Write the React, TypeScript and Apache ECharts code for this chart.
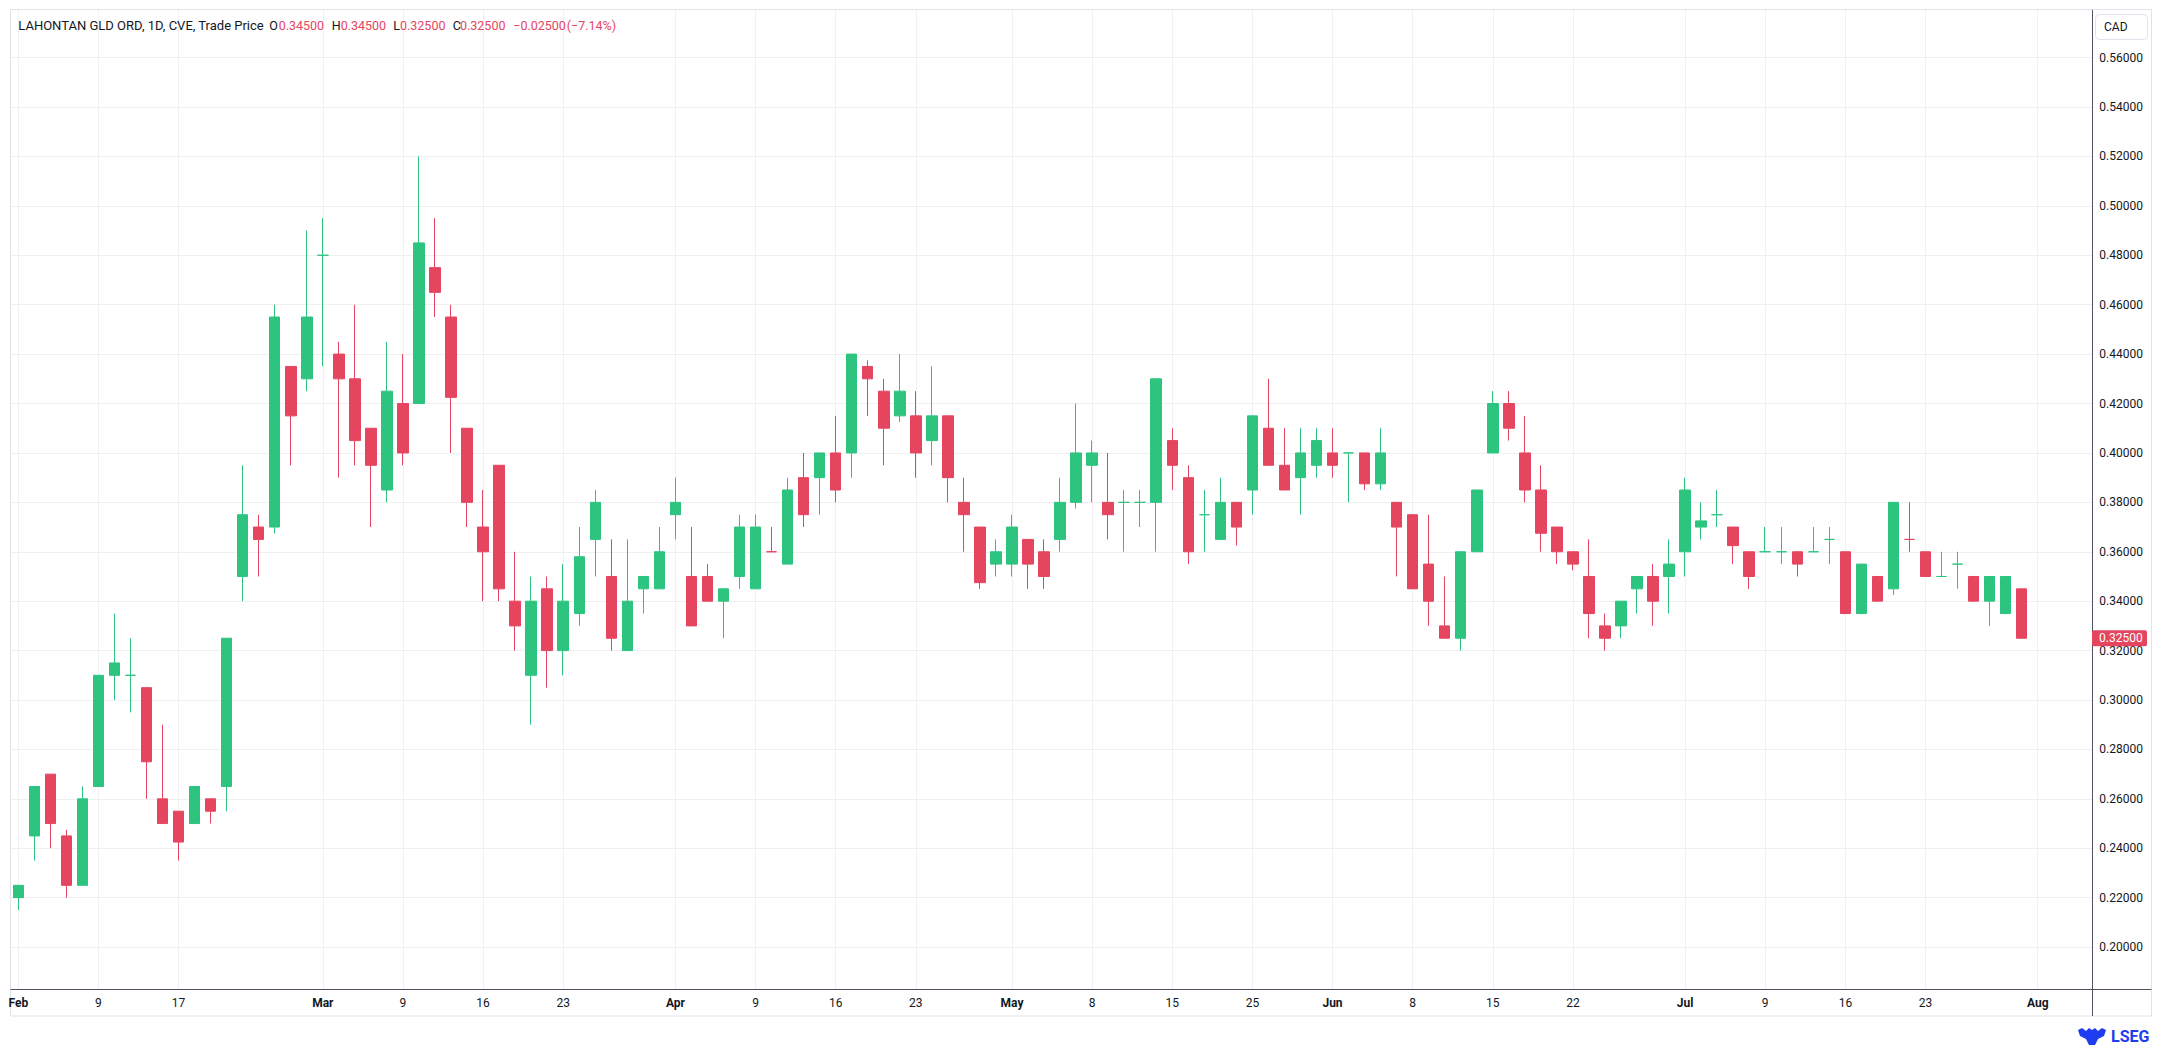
import React, { useEffect, useRef } from "react";
import * as echarts from "echarts";

// ---------- data ----------
const openPrices = [
  0.22, 0.245, 0.27, 0.245, 0.225, 0.265, 0.31, 0.31, 0.305, 0.26,
  0.255, 0.25, 0.26, 0.265, 0.35, 0.37, 0.37, 0.435, 0.43, 0.48,
  0.44, 0.43, 0.41, 0.385, 0.42, 0.42, 0.475, 0.455, 0.41, 0.37,
  0.395, 0.34, 0.31, 0.345, 0.32, 0.335, 0.365, 0.35, 0.32, 0.345,
  0.345, 0.375, 0.35, 0.35, 0.34, 0.35, 0.345, 0.36, 0.355, 0.39,
  0.39, 0.4, 0.4, 0.435, 0.425, 0.415, 0.415, 0.405, 0.415, 0.38,
  0.37, 0.355, 0.355, 0.365, 0.36, 0.365, 0.38, 0.395, 0.38, 0.38,
  0.38, 0.38, 0.405, 0.39, 0.375, 0.365, 0.38, 0.385, 0.41, 0.395,
  0.39, 0.395, 0.4, 0.4, 0.4, 0.3875, 0.38, 0.375, 0.355, 0.33,
  0.325, 0.36, 0.4, 0.42, 0.4, 0.385, 0.37, 0.36, 0.35, 0.33,
  0.33, 0.345, 0.35, 0.35, 0.36, 0.37, 0.375, 0.37, 0.36, 0.36,
  0.36, 0.36, 0.36, 0.365, 0.36, 0.335, 0.35, 0.345, 0.365, 0.36,
  0.35, 0.355, 0.35, 0.34, 0.335, 0.345,
];
const highPrices = [
  0.225, 0.265, 0.27, 0.2475, 0.265, 0.31, 0.335, 0.325, 0.305, 0.29,
  0.255, 0.265, 0.26, 0.325, 0.395, 0.375, 0.46, 0.435, 0.49, 0.495,
  0.445, 0.46, 0.41, 0.445, 0.44, 0.52, 0.495, 0.46, 0.41, 0.385,
  0.395, 0.36, 0.35, 0.35, 0.355, 0.37, 0.385, 0.365, 0.365, 0.35,
  0.37, 0.39, 0.37, 0.355, 0.345, 0.375, 0.375, 0.37, 0.39, 0.4,
  0.4, 0.415, 0.44, 0.4375, 0.43, 0.44, 0.425, 0.435, 0.415, 0.39,
  0.37, 0.365, 0.375, 0.365, 0.365, 0.39, 0.42, 0.405, 0.4, 0.385,
  0.385, 0.43, 0.41, 0.395, 0.385, 0.39, 0.38, 0.415, 0.43, 0.41,
  0.41, 0.41, 0.41, 0.4, 0.4, 0.41, 0.38, 0.375, 0.375, 0.35,
  0.36, 0.385, 0.425, 0.425, 0.415, 0.395, 0.37, 0.36, 0.365, 0.335,
  0.34, 0.35, 0.355, 0.365, 0.39, 0.38, 0.385, 0.37, 0.36, 0.37,
  0.37, 0.36, 0.37, 0.37, 0.36, 0.355, 0.35, 0.38, 0.38, 0.36,
  0.36, 0.36, 0.35, 0.35, 0.35, 0.345,
];
const lowPrices = [
  0.215, 0.235, 0.24, 0.22, 0.225, 0.265, 0.3, 0.295, 0.26, 0.25,
  0.235, 0.25, 0.25, 0.255, 0.34, 0.35, 0.3675, 0.395, 0.425, 0.435,
  0.39, 0.395, 0.37, 0.38, 0.395, 0.42, 0.455, 0.4, 0.37, 0.34,
  0.34, 0.32, 0.29, 0.305, 0.31, 0.33, 0.35, 0.32, 0.32, 0.335,
  0.345, 0.365, 0.33, 0.34, 0.325, 0.345, 0.345, 0.36, 0.355, 0.37,
  0.375, 0.38, 0.39, 0.415, 0.395, 0.4125, 0.39, 0.395, 0.38, 0.36,
  0.345, 0.35, 0.35, 0.345, 0.345, 0.36, 0.3775, 0.38, 0.365, 0.36,
  0.37, 0.36, 0.385, 0.355, 0.36, 0.365, 0.3625, 0.375, 0.395, 0.385,
  0.375, 0.39, 0.39, 0.38, 0.385, 0.385, 0.35, 0.345, 0.33, 0.325,
  0.32, 0.36, 0.4, 0.405, 0.38, 0.36, 0.355, 0.3525, 0.325, 0.32,
  0.325, 0.335, 0.33, 0.335, 0.35, 0.365, 0.37, 0.355, 0.345, 0.36,
  0.355, 0.35, 0.36, 0.355, 0.335, 0.335, 0.34, 0.3425, 0.36, 0.35,
  0.35, 0.345, 0.34, 0.33, 0.335, 0.325,
];
const closePrices = [
  0.225, 0.265, 0.25, 0.225, 0.26, 0.31, 0.315, 0.31, 0.275, 0.25,
  0.2425, 0.265, 0.255, 0.325, 0.375, 0.365, 0.455, 0.415, 0.455, 0.48,
  0.43, 0.405, 0.395, 0.425, 0.4, 0.485, 0.465, 0.4225, 0.38, 0.36,
  0.345, 0.33, 0.34, 0.32, 0.34, 0.358, 0.38, 0.325, 0.34, 0.35,
  0.36, 0.38, 0.33, 0.34, 0.345, 0.37, 0.37, 0.36, 0.385, 0.375,
  0.4, 0.385, 0.44, 0.43, 0.41, 0.425, 0.4, 0.415, 0.39, 0.375,
  0.3475, 0.36, 0.37, 0.355, 0.35, 0.38, 0.4, 0.4, 0.375, 0.38,
  0.38, 0.43, 0.395, 0.36, 0.375, 0.38, 0.37, 0.415, 0.395, 0.385,
  0.4, 0.405, 0.395, 0.4, 0.3875, 0.4, 0.37, 0.345, 0.34, 0.325,
  0.36, 0.385, 0.42, 0.41, 0.385, 0.3675, 0.36, 0.355, 0.335, 0.325,
  0.34, 0.35, 0.34, 0.355, 0.385, 0.3725, 0.375, 0.3625, 0.35, 0.36,
  0.36, 0.355, 0.36, 0.365, 0.335, 0.355, 0.34, 0.38, 0.365, 0.35,
  0.35, 0.355, 0.34, 0.35, 0.35, 0.325,
];
// time-axis tick labels: [slot index, text]
const xTickLabels: [number, string][] = [
  [0, "Feb"], [5, "9"], [10, "17"], [19, "Mar"], [24, "9"], [29, "16"],
  [34, "23"], [41, "Apr"], [46, "9"], [51, "16"], [56, "23"], [62, "May"],
  [67, "8"], [72, "15"], [77, "25"], [82, "Jun"], [87, "8"], [92, "15"],
  [97, "22"], [104, "Jul"], [109, "9"], [114, "16"], [119, "23"], [126, "Aug"],
];
const monthNames = ["Feb", "Mar", "Apr", "May", "Jun", "Jul", "Aug"];
const forcedUpDoji = [7];
const slotCount = 130;
const yMin = 0.18;
const yMax = 0.58;
const yStep = 0.02;
const titleText = "LAHONTAN GLD ORD, 1D, CVE, Trade Price";
const currencyText = "CAD";

// ---------- styles ----------
const UP = "#2dc47f";
const DOWN = "#e5455f";
const TEXT = "#131722";
const GRID = "#f0f0f3";
const BORDER = "#e0e3eb";
const AXIS = "#50535e";
const FONT = "Roboto";

echarts.graphic.registerShape(
  "lsegIcon",
  echarts.graphic.extendPath(
    "M0 3 L4 1 L8 4 L11 1 L14 3 L17 1 L20 4 L24 1 L28 3 L26 9 L20 12 L17 18 L11 18 L8 12 L2 9 Z",
    {}
  )
);

const categories = Array.from({ length: slotCount }, (_, i) => String(i));
const labelMap = new Map<number, string>(xTickLabels);

export default function App() {
  const ref = useRef<HTMLDivElement>(null);

  useEffect(() => {
    document.body.style.margin = "0";
    const el = ref.current!;
    const chart = echarts.init(el, null, { renderer: "svg", width: 2161, height: 1047 });

    const seriesData = openPrices.map((o, i) => {
      const c = closePrices[i];
      const value = [o, c, lowPrices[i], highPrices[i]];
      if (o === c) {
        const up = forcedUpDoji.includes(i) || i === 0 || closePrices[i - 1] <= c;
        const col = up ? UP : DOWN;
        return {
          value,
          itemStyle: { color: col, color0: col, borderColor: col, borderColor0: col, borderColorDoji: col },
        };
      }
      return { value };
    });

    chart.setOption({
      animation: false,
      grid: { left: 10.3, right: 67.2, top: 8.2, bottom: 50.5, containLabel: false },
      xAxis: {
        type: "category",
        data: categories,
        boundaryGap: true,
        axisLine: { show: false },
        axisTick: { show: false },
        splitLine: { show: false },
        axisLabel: {
          interval: 0,
          margin: 0,
          color: TEXT,
          fontFamily: FONT,
          fontSize: 12,
          formatter: (v: string) => {
            const t = labelMap.get(Number(v));
            if (!t) return "";
            return monthNames.includes(t) ? `{m|${t}}` : t;
          },
          rich: { m: { fontWeight: "bold", fontFamily: FONT, fontSize: 12, color: TEXT } },
        },
      },
      yAxis: {
        type: "value",
        position: "right",
        min: yMin,
        max: yMax,
        interval: yStep,
        axisLine: { show: false },
        axisTick: { show: false },
        axisLabel: {
          margin: 5.5,
          color: TEXT,
          fontFamily: FONT,
          fontSize: 12,
          showMinLabel: false,
          showMaxLabel: false,
          formatter: (v: number) => v.toFixed(5),
        },
        splitLine: { show: true, showMinLine: false, showMaxLine: false, lineStyle: { color: GRID, width: 1 } },
      },
      series: [
        {
          type: "candlestick",
          data: seriesData,
          barWidth: 11,
          itemStyle: {
            color: UP,
            color0: DOWN,
            borderColor: UP,
            borderColor0: DOWN,
            borderWidth: 1,
          },
          emphasis: { disabled: true },
          markLine: {
            silent: true,
            z: 1,
            symbol: ["none", "none"],
            label: { show: false },
            lineStyle: { type: "solid", color: GRID, width: 1 },
            emphasis: { disabled: true },
            data: xTickLabels.map(([i]) => ({ xAxis: categories[i] })),
          },
        },
      ],
    });

    const n = closePrices.length;
    const last = closePrices[n - 1];
    const prev = closePrices[n - 2];
    const chg = last - prev;
    const pct = (chg / prev) * 100;
    const fmt = (v: number) => (v < 0 ? "\u2212" : "") + Math.abs(v).toFixed(5);
    const py = chart.convertToPixel({ yAxisIndex: 0 }, last) as number;
    const hy = 25;
    const headText = (x: number, text: string, fill: string, size = 12.5) => ({
      type: "text",
      x,
      y: hy,
      z: 40,
      silent: true,
      style: { text, fill, fontFamily: FONT, fontSize: size, verticalAlign: "middle" },
    });

    chart.setOption({
      graphic: [
        {
          type: "rect",
          z: 0,
          silent: true,
          shape: { x: 10.5, y: 9.5, width: 2141, height: 1006.5 },
          style: { fill: "none", stroke: BORDER, lineWidth: 1 },
        },
        {
          type: "rect",
          z: 10,
          silent: true,
          shape: { x: 11, y: 990.2, width: 2080, height: 6.6 },
          style: { fill: "#ffffff" },
        },
        {
          type: "line",
          z: 20,
          silent: true,
          shape: { x1: 10.5, y1: 989.5, x2: 2151.5, y2: 989.5 },
          style: { stroke: AXIS, lineWidth: 1 },
        },
        {
          type: "line",
          z: 20,
          silent: true,
          shape: { x1: 2092.5, y1: 10, x2: 2092.5, y2: 1016 },
          style: { stroke: AXIS, lineWidth: 1 },
        },
        headText(18.3, titleText, TEXT, 13),
        headText(269.3, "O", TEXT),
        headText(278.7, fmt(openPrices[n - 1]), DOWN),
        headText(331.7, "H", TEXT),
        headText(340.7, fmt(highPrices[n - 1]), DOWN),
        headText(393.3, "L", TEXT),
        headText(400, fmt(lowPrices[n - 1]), DOWN),
        headText(452.7, "C", TEXT),
        headText(460, fmt(last), DOWN),
        headText(513.3, fmt(chg), DOWN),
        headText(566.7, `(${pct < 0 ? "\u2212" : ""}${Math.abs(pct).toFixed(2)}%)`, DOWN),
        {
          type: "rect",
          z: 40,
          silent: true,
          shape: { x: 2095.5, y: 14.5, width: 52, height: 25, r: 4 },
          style: { fill: "#ffffff", stroke: BORDER, lineWidth: 1 },
        },
        {
          type: "text",
          z: 41,
          silent: true,
          x: 2104,
          y: 27,
          style: { text: currencyText, fill: TEXT, fontFamily: FONT, fontSize: 12, verticalAlign: "middle" },
        },
        {
          type: "rect",
          z: 40,
          silent: true,
          shape: { x: 2092, y: py - 8, width: 55, height: 16, r: 2 },
          style: { fill: DOWN },
        },
        {
          type: "text",
          z: 41,
          silent: true,
          x: 2099,
          y: py,
          style: { text: last.toFixed(5), fill: "#ffffff", fontFamily: FONT, fontSize: 12, verticalAlign: "middle" },
        },
        {
          type: "lsegIcon",
          z: 40,
          silent: true,
          x: 2078,
          y: 1027,
          scaleX: 1,
          scaleY: 1,
          style: { fill: "#1e3cf0" },
        },
        {
          type: "text",
          z: 40,
          silent: true,
          x: 2111,
          y: 1036.5,
          style: {
            text: "LSEG",
            fill: "#1e3cf0",
            fontFamily: FONT,
            fontSize: 16,
            fontWeight: "bold",
            verticalAlign: "middle",
          },
        },
      ],
    });

    return () => chart.dispose();
  }, []);

  return (
    <div
      ref={ref}
      style={{ position: "absolute", left: 0, top: 0, width: 2161, height: 1047, background: "#ffffff" }}
    />
  );
}
